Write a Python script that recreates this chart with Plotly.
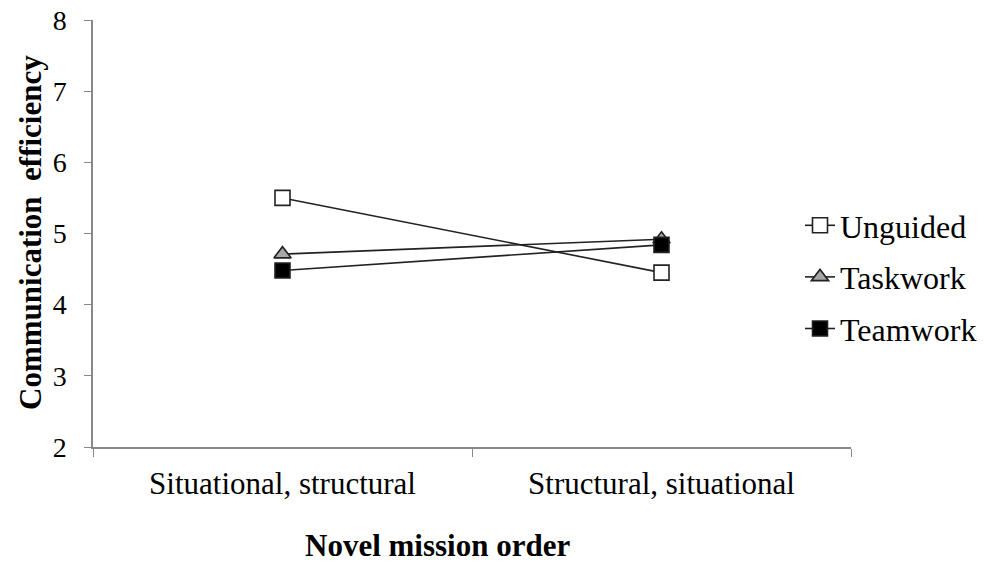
import plotly.graph_objects as go

categories = ["Situational, structural", "Structural, situational"]
unguided = [5.5, 4.45]
taskwork = [4.71, 4.92]
teamwork = [4.48, 4.84]
series_names = ["Unguided", "Taskwork", "Teamwork"]
y_ticks = [2, 3, 4, 5, 6, 7, 8]

FONT = "Liberation Serif, Times New Roman, serif"

W, H = 990, 562
L, T, PW, PH = 93, 20, 758, 427

fig = go.Figure()
styles = [
    dict(symbol="square", color="white"),
    dict(symbol="triangle-up", color="#a6a6a6"),
    dict(symbol="square", color="black"),
]
for name, vals, st in zip(series_names, [unguided, taskwork, teamwork], styles):
    fig.add_trace(go.Scatter(
        x=categories, y=vals, name=name, mode="lines+markers",
        legendgroup=name,
        line=dict(color="#222222", width=1.6),
        marker=dict(symbol=st["symbol"], size=15, color=st["color"],
                    line=dict(color="#222222", width=1.6)),
    ))

def px(xw):
    return (xw - L) / PW

def py(yw):
    return 1 - (yw - T) / PH

fig.update_layout(
    width=W, height=H,
    margin=dict(l=L, r=W - L - PW, t=T, b=H - T - PH, autoexpand=False),
    paper_bgcolor="white", plot_bgcolor="white",
    font=dict(family=FONT, size=28, color="black"),
    showlegend=True,
    legend=dict(x=px(800), xanchor="left", y=py(277), yanchor="middle",
                font=dict(size=32), tracegroupgap=7, itemwidth=30,
                bgcolor="rgba(0,0,0,0)"),
    xaxis=dict(
        type="category", range=[-0.5, 1.5], tickson="boundaries",
        showline=True, linecolor="#888888", linewidth=1.5,
        ticks="outside", ticklen=8, tickcolor="#888888",
        showgrid=False, zeroline=False, automargin=False,
        tickfont=dict(size=31), ticklabelstandoff=8,
    ),
    yaxis=dict(
        range=[2, 8], tickvals=y_ticks,
        showline=True, linecolor="#888888", linewidth=1.5,
        ticks="outside", ticklen=7, tickcolor="#888888",
        showgrid=False, zeroline=False, automargin=False,
        tickfont=dict(size=28), ticklabelstandoff=12,
    ),
    annotations=[
        dict(text="<b>Novel mission order</b>", x=px(437), y=py(545),
             xref="paper", yref="paper", xanchor="center", yanchor="middle",
             showarrow=False, font=dict(size=31)),
        dict(text="<b>Communication  efficiency</b>", x=px(30), y=py(233),
             xref="paper", yref="paper", xanchor="center", yanchor="middle",
             showarrow=False, textangle=-90, font=dict(size=31)),
    ],
)
fig.write_html("out.html", config={"displayModeBar": False})

with open("out.html", "r", encoding="utf-8") as f:
    html = f.read()
html = html.replace("<head>", "<head><style>html,body{margin:0;padding:0;overflow:hidden;}</style>", 1)
with open("out.html", "w", encoding="utf-8") as f:
    f.write(html)
